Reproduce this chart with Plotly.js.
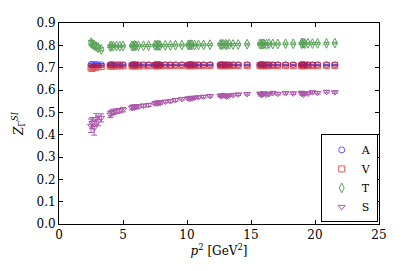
<!DOCTYPE html>
<html>
<head>
<meta charset="utf-8">
<script src="https://cdn.plot.ly/plotly-3.0.1.min.js"></script>
<style>html,body{margin:0;padding:0;background:#fff;}#chart{width:407px;height:271px;}</style>
</head>
<body>
<div id="chart"></div>
<script>
const p2 = [2.50,2.60,2.75,2.90,3.05,3.30,4.00,4.10,4.25,4.50,4.75,5.00,5.70,5.80,5.90,6.00,6.20,6.60,7.00,7.50,7.60,7.70,7.80,7.90,8.30,8.70,9.10,9.60,10.10,10.20,10.30,10.40,10.60,10.90,11.30,11.80,12.60,12.70,12.80,13.00,13.10,13.30,13.60,14.00,14.70,15.70,15.80,15.90,16.00,16.20,16.40,16.70,17.10,17.70,18.30,18.95,19.00,19.10,19.20,19.45,19.80,20.20,20.90,21.55];

const zA = [0.714,0.715,0.713,0.714,0.713,0.713,0.713,0.714,0.713,0.713,0.713,0.713,0.713,0.713,0.714,0.713,0.713,0.713,0.713,0.713,0.713,0.714,0.713,0.713,0.713,0.713,0.713,0.713,0.713,0.714,0.713,0.713,0.713,0.713,0.713,0.713,0.713,0.714,0.713,0.713,0.713,0.713,0.713,0.713,0.713,0.713,0.714,0.713,0.713,0.713,0.713,0.713,0.713,0.713,0.713,0.713,0.714,0.713,0.713,0.713,0.713,0.713,0.713,0.713];
const eA = [0.004,0.004,0.003,0.003,0.003,0.003,0.002,0.002,0.002,0.002,0.002,0.002,0.002,0.002,0.002,0.002,0.002,0.002,0.002,0.002,0.002,0.002,0.002,0.002,0.002,0.002,0.002,0.002,0.002,0.002,0.002,0.002,0.002,0.002,0.002,0.002,0.002,0.002,0.002,0.002,0.002,0.002,0.002,0.002,0.002,0.002,0.002,0.002,0.002,0.002,0.002,0.002,0.002,0.002,0.002,0.002,0.002,0.002,0.002,0.002,0.002,0.002,0.002,0.002];

const zV = [0.699,0.696,0.701,0.703,0.704,0.705,0.707,0.708,0.707,0.708,0.708,0.708,0.708,0.708,0.709,0.708,0.708,0.708,0.709,0.709,0.708,0.709,0.709,0.709,0.709,0.709,0.709,0.709,0.709,0.709,0.709,0.709,0.709,0.709,0.709,0.709,0.709,0.709,0.709,0.709,0.709,0.709,0.709,0.709,0.709,0.709,0.709,0.709,0.709,0.709,0.709,0.709,0.709,0.709,0.709,0.709,0.709,0.709,0.709,0.709,0.709,0.709,0.709,0.709];
const eV = [0.005,0.005,0.004,0.004,0.004,0.003,0.003,0.003,0.003,0.002,0.002,0.002,0.002,0.002,0.002,0.002,0.002,0.002,0.002,0.002,0.002,0.002,0.002,0.002,0.002,0.002,0.002,0.002,0.002,0.002,0.002,0.002,0.002,0.002,0.002,0.002,0.002,0.002,0.002,0.002,0.002,0.002,0.002,0.002,0.002,0.002,0.002,0.002,0.002,0.002,0.002,0.002,0.002,0.002,0.002,0.002,0.002,0.002,0.002,0.002,0.002,0.002,0.002,0.002];

const zT = [0.812,0.806,0.800,0.795,0.790,0.782,0.795,0.797,0.796,0.797,0.796,0.797,0.798,0.797,0.799,0.798,0.798,0.798,0.799,0.800,0.799,0.801,0.800,0.799,0.800,0.800,0.801,0.801,0.802,0.801,0.803,0.802,0.801,0.802,0.802,0.803,0.804,0.803,0.805,0.804,0.803,0.805,0.804,0.804,0.805,0.806,0.805,0.807,0.806,0.805,0.807,0.806,0.806,0.807,0.807,0.809,0.808,0.810,0.808,0.809,0.808,0.809,0.809,0.810];
const eT = [0.010,0.009,0.008,0.008,0.007,0.007,0.005,0.005,0.005,0.004,0.004,0.004,0.004,0.004,0.004,0.004,0.004,0.004,0.004,0.004,0.004,0.004,0.004,0.004,0.004,0.004,0.004,0.004,0.004,0.004,0.004,0.004,0.004,0.004,0.004,0.004,0.004,0.004,0.004,0.004,0.004,0.004,0.004,0.004,0.004,0.004,0.004,0.004,0.004,0.004,0.004,0.004,0.004,0.004,0.004,0.004,0.004,0.004,0.004,0.004,0.004,0.004,0.004,0.004];

const zS = [0.440,0.452,0.430,0.470,0.462,0.475,0.490,0.497,0.502,0.505,0.508,0.512,0.520,0.525,0.522,0.527,0.526,0.530,0.533,0.540,0.543,0.540,0.545,0.542,0.548,0.550,0.555,0.560,0.563,0.560,0.565,0.562,0.566,0.568,0.570,0.573,0.575,0.572,0.577,0.574,0.570,0.576,0.578,0.580,0.582,0.584,0.578,0.580,0.586,0.579,0.582,0.587,0.583,0.586,0.585,0.588,0.582,0.580,0.585,0.584,0.590,0.587,0.592,0.590];
const eS = [0.030,0.025,0.032,0.024,0.022,0.018,0.014,0.013,0.012,0.011,0.010,0.010,0.009,0.008,0.008,0.008,0.007,0.007,0.007,0.006,0.006,0.006,0.006,0.006,0.006,0.006,0.006,0.005,0.005,0.005,0.005,0.005,0.005,0.005,0.005,0.005,0.005,0.005,0.005,0.005,0.005,0.005,0.005,0.005,0.005,0.005,0.005,0.005,0.005,0.005,0.005,0.005,0.005,0.005,0.005,0.005,0.005,0.005,0.005,0.005,0.005,0.005,0.005,0.005];

const xTicks = [0,5,10,15,20,25];
const yTicks = [0.0,0.1,0.2,0.3,0.4,0.5,0.6,0.7,0.8,0.9];

function tr(name, y, e, sym, col, size) {
  return {
    type: 'scatter', mode: 'markers', name: name,
    x: p2, y: y,
    error_y: {type: 'data', array: e, visible: true, color: col, thickness: 1, width: 3},
    marker: {symbol: sym, size: size, color: col, line: {color: col, width: 1}},
    opacity: 0.65
  };
}

const data = [
  tr('A', zA, eA, 'circle-open', '#0000ff', 6),
  tr('V', zV, eV, 'square-open', '#d00000', 6),
  tr('T', zT, eT, 'diamond-tall-open', '#007000', 7),
  tr('S', zS, eS, 'triangle-down-open', '#800080', 6)
];

const FAM = 'DejaVu Serif';
function f(sz) { return {family: FAM, size: sz, color: '#000'}; }

const layout = {
  width: 407, height: 271,
  margin: {l: 59, r: 28, t: 23, b: 47},
  paper_bgcolor: '#fff', plot_bgcolor: '#fff',
  font: f(12),
  showlegend: true,
  legend: {
    x: 0.996, y: 0.008, xanchor: 'right', yanchor: 'bottom',
    bgcolor: '#fff', bordercolor: '#000', borderwidth: 1,
    font: f(11),
    itemwidth: 30, tracegroupgap: 0
  },
  xaxis: {
    range: [0, 25], tickvals: xTicks, ticktext: xTicks.map(String),
    tickfont: f(12),
    ticks: 'inside', ticklen: 4, tickcolor: '#000',
    showline: true, linecolor: '#000', linewidth: 1, mirror: 'ticks',
    showgrid: false, zeroline: false,
    title: {text: '<i>p</i><sup>2</sup> [GeV<sup>2</sup>]', font: f(12), standoff: 4}
  },
  yaxis: {
    range: [0, 0.9], tickvals: yTicks, ticktext: yTicks.map(v => v.toFixed(1)),
    tickfont: f(12),
    ticks: 'inside', ticklen: 4, tickcolor: '#000',
    showline: true, linecolor: '#000', linewidth: 1, mirror: 'ticks',
    showgrid: false, zeroline: false,
    title: {text: '<i>Z</i><sub>Γ</sub><sup><i>SI</i></sup>', font: f(12), standoff: 10}
  }
};

Plotly.newPlot('chart', data, layout, {displayModeBar: false, staticPlot: true});
</script>
</body>
</html>
